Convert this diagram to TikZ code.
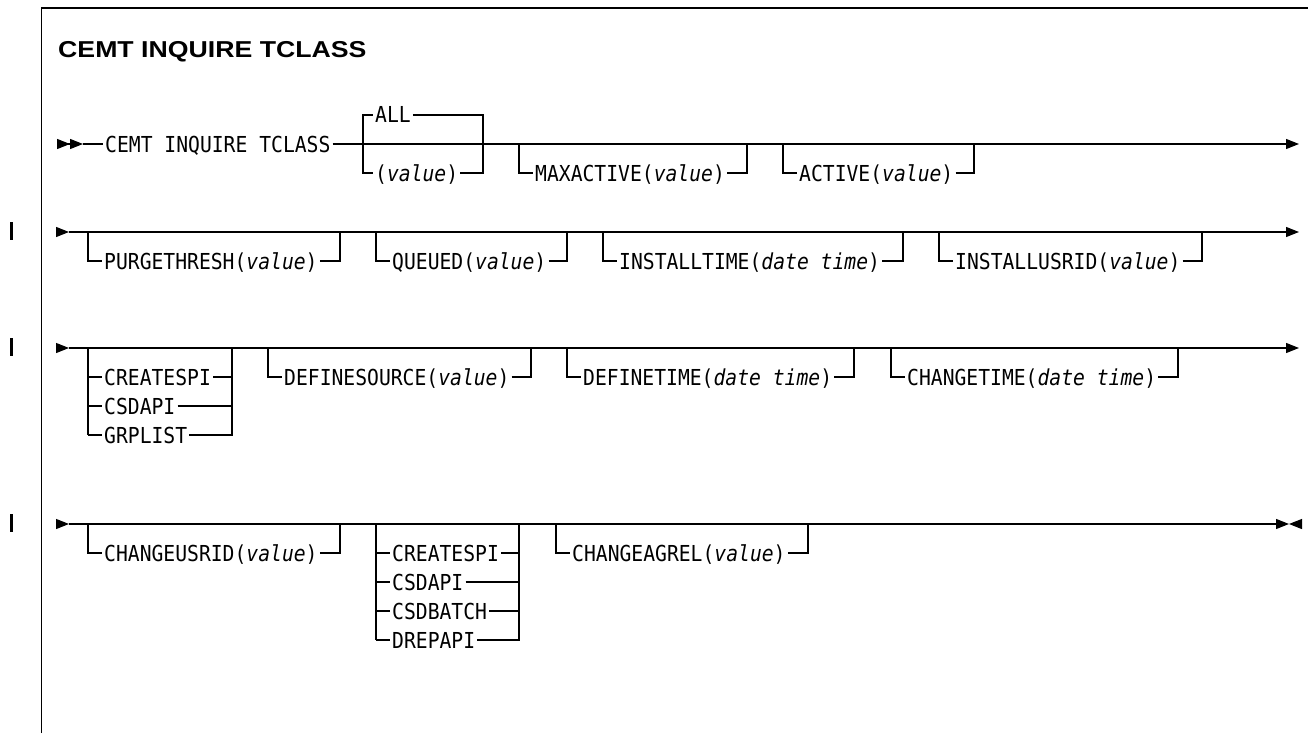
\documentclass[tikz,border=0pt]{standalone}
\usepackage{fontspec}
\usetikzlibrary{arrows.meta}

\newfontfamily\titlefont[FakeStretch=1.16]{Liberation Sans}
\newfontfamily\synfont[FakeStretch=0.895]{DejaVu Sans Mono}
\newcommand{\synval}[1]{\textit{#1}}

\tikzset{
  rail/.style={line width=1.1pt},
  railtip/.style={-{Triangle[length=13pt,width=10pt,sep=0pt]}},
  synbox/.style={anchor=west, inner xsep=2pt, inner ysep=0pt,
    text height=16pt, text depth=0pt,
    font=\synfont\fontsize{22}{22}\selectfont},
}

\begin{document}
\begin{tikzpicture}[x=1pt,y=-1pt]
    \useasboundingbox (0,0) rectangle (1308,733);

    % Frame and title
    \draw[line width=1.4pt] (41.5,733) -- (41.5,8) -- (1308,8);
    \node[anchor=base west, inner sep=0pt, font=\titlefont\bfseries\fontsize{23}{26}\selectfont]
        (title) at (58,57.5) {CEMT INQUIRE TCLASS};

    % Change bars
    \foreach \y in {232,348,524} {
        \draw[line width=3pt] (11.5,\y-10) -- (11.5,\y+8);
    }

    % Row 1
    \node[synbox] (cmd) at (103,144) {CEMT INQUIRE TCLASS};
    \draw[rail,-{Triangle[length=13pt,width=10pt,sep=0pt] Triangle[length=13pt,width=10pt,sep=0pt]}]
        (57,144) -- (83,144);
    \draw[rail] (83,144) -- (cmd.west);
    \coordinate (r1out) at (1299,144);
    \draw[rail,railtip] (cmd.east) -- (r1out);

    % ALL or (value)
    \coordinate (allL) at (363,144);
    \coordinate (allR) at (483,144);
    \node[synbox] (all) at (373,115) {ALL};
    \node[synbox] (allval) at (373,173) {(\synval{value})};
    \draw[rail] (allL) |- (all.west);
    \draw[rail] (all.east) -| (allR);
    \draw[rail] (allL) |- (allval.west);
    \draw[rail] (allval.east) -| (allR);

    % Rows 2 to 4
    \foreach \y in {232,348,524} {
        \coordinate (in\y) at (69,\y);
        \draw[rail,railtip] (57,\y) -- (in\y);
    }
    \draw[rail,railtip] (in232) -- (1299,232);
    \draw[rail,railtip] (in348) -- (1299,348);
    \draw[rail,railtip] (in524) -- (1289,524);
    \coordinate (r4end) at (1301,524);
    \draw[rail,railtip] (r4end) -- (1289,524);

    % Optional keywords (left, right, row)
    \foreach \n/\l/\r/\y/\t in {
        maxact/519/747/144/{MAXACTIVE(\synval{value})},
        active/783/974/144/{ACTIVE(\synval{value})},
        purge/88/340/232/{PURGETHRESH(\synval{value})},
        queued/376/567/232/{QUEUED(\synval{value})},
        insttime/603/903/232/{INSTALLTIME(\synval{date time})},
        instusr/939/1202/232/{INSTALLUSRID(\synval{value})},
        defsrc/268/531/348/{DEFINESOURCE(\synval{value})},
        deftime/567/854/348/{DEFINETIME(\synval{date time})},
        chgtime/891/1178/348/{CHANGETIME(\synval{date time})},
        chgusr/88/340/524/{CHANGEUSRID(\synval{value})},
        chgagrel/556/808/524/{CHANGEAGREL(\synval{value})}} {
        \node[synbox] (\n) at (\l+14,\y+29) {\t};
        \draw[rail] (\l,\y) |- (\n.west);
        \draw[rail] (\n.east) -| (\r,\y);
    }

    % Choice groups
    \draw[rail] (88,348) -- (88,435);
    \foreach \t [count=\k] in {CREATESPI,CSDAPI,GRPLIST} {
        \node[synbox] (ga\k) at (102,348+29*\k) {\t};
        \draw[rail] (88,348+29*\k) -- (ga\k.west);
        \draw[rail] (ga\k.east) -| (232,348);
    }
    \draw[rail] (376,524) -- (376,640);
    \foreach \t [count=\k] in {CREATESPI,CSDAPI,CSDBATCH,DREPAPI} {
        \node[synbox] (gb\k) at (390,524+29*\k) {\t};
        \draw[rail] (376,524+29*\k) -- (gb\k.west);
        \draw[rail] (gb\k.east) -| (519,524);
    }
\end{tikzpicture}
\end{document}
